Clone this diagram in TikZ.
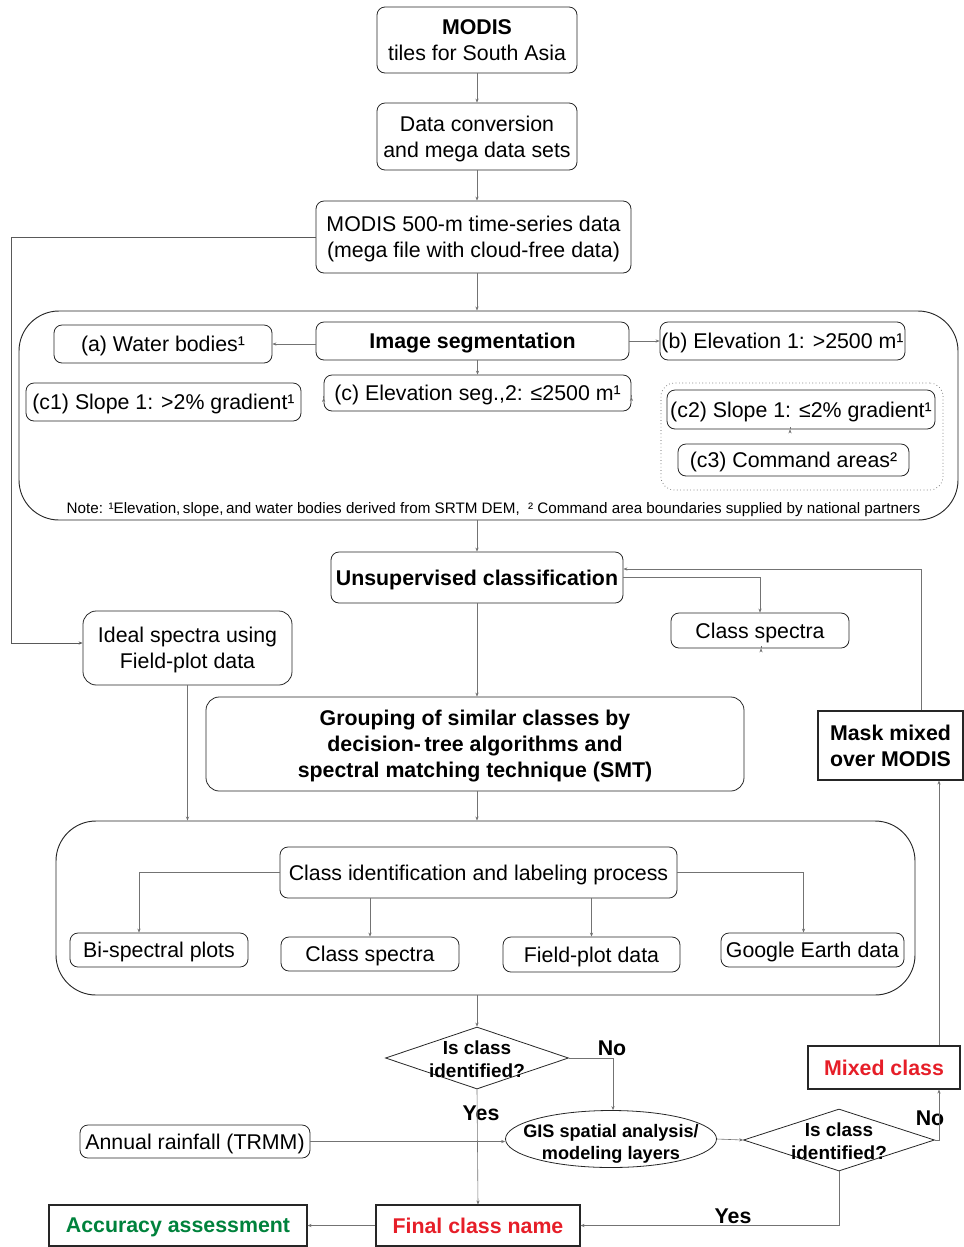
\documentclass[tikz,border=0pt]{standalone}
\usepackage{fontspec}
\setmainfont{Liberation Sans}
\usetikzlibrary{arrows.meta,positioning,calc,shapes.geometric}
\definecolor{myred}{RGB}{230,30,40}
\definecolor{mygreen}{RGB}{0,130,60}
\begin{document}
\begin{tikzpicture}[x=0.75pt,y=-0.75pt,
  sz/.style 2 args={minimum width=#1*0.75pt, minimum height=#2*0.75pt},
  base/.style={inner sep=0pt, align=center, text depth=0pt, font=\fontsize{16}{19.5}\selectfont},
  bold/.style={font=\fontsize{16}{19.5}\selectfont\bfseries},
  box/.style={base, draw=black!85, line width=0.6pt, rounded corners=6pt},
  bigbox/.style={base, draw=black!85, line width=0.6pt, rounded corners=10pt},
  sqbox/.style={base, draw=black!85, line width=0.8pt},
  grp/.style={inner sep=0pt, draw=black!85, line width=0.7pt, rounded corners=30pt},
  dotbox/.style={inner sep=0pt, draw=black!70, line width=0.5pt, dotted, rounded corners=10pt},
  conn/.style={draw=black!55, line width=0.45pt, -{Stealth[length=3pt,width=2.4pt]}},
  dec/.style={diamond, draw=black!85, line width=0.6pt, inner sep=0pt},
  lbl/.style={font=\fontsize{16}{19.5}\selectfont\bfseries, inner sep=0pt}
]
\useasboundingbox (0,0) rectangle (964,1247);

% top chain
\node[box, sz={200}{66}] (modis) at (477,40) {\textbf{MODIS}\\tiles for South Asia};
\node[box, sz={200}{67}] (dconv) at (477,136.5) {Data conversion\\and mega data sets};
\node[box, sz={315}{72}] (m500) at (473.5,237) {MODIS 500-m time-series data\\(mega file with cloud-free data)};

% segmentation group
\node[grp, sz={939}{209}] (grp1) at (488.5,415.5) {};
\node[box, bold, sz={313}{38}] (iseg) at (472.5,341) {Image segmentation};
\node[box, sz={218}{38}] (wat) at (163,344) {(a) Water bodies¹};
\node[box, sz={245}{38}] (elev1) at (782.5,341) {(b) Elevation 1: >2500 m¹};
\node[box, sz={307}{36}] (elev2) at (477.5,393) {(c) Elevation seg.,2: ≤2500 m¹};
\node[box, sz={275}{38}] (slope1) at (163.5,402) {(c1) Slope 1: >2\% gradient¹};
\node[dotbox, sz={282}{107}] (dbox) at (802,436.5) {};
\node[box, sz={268}{39}] (slope2) at (801,409.5) {(c2) Slope 1: ≤2\% gradient¹};
\node[box, sz={231}{32}] (cmd) at (793.5,460) {(c3) Command areas²};
\node[inner sep=0pt, font=\fontsize{11.4}{13}\selectfont] (note) at (493.5,510)
  {Note: ¹Elevation,\,slope,\,and water bodies derived from SRTM DEM,\ \ ² Command area boundaries supplied by national partners};

% middle
\node[box, bold, sz={292}{51}] (unsup) at (477,577.5) {Unsupervised classification};
\node[bigbox, sz={209}{74}] (ideal) at (187.5,648) {Ideal spectra using\\Field-plot data};
\node[box, sz={178}{35}] (cspec1) at (760,630.5) {Class spectra};
\node[sqbox, bold, sz={145}{69}] (mask) at (890.5,745.5) {Mask mixed\\over MODIS};
\node[bigbox, bold, sz={538}{94}] (group) at (475,744)
  {Grouping of similar classes by\\decision-\,tree algorithms and\\spectral matching technique (SMT)};

% class identification group
\node[grp, sz={859}{174}] (grp2) at (485.5,908) {};
\node[box, sz={397}{51}] (cilp) at (478.5,872.5) {Class identification and labeling process};
\node[box, sz={178}{34}] (bisp) at (159,950) {Bi-spectral plots};
\node[box, sz={178}{34}] (cs2) at (370,954) {Class spectra};
\node[box, sz={177}{35}] (fp) at (591.5,954.5) {Field-plot data};
\node[box, sz={183}{34}] (ge) at (812.5,950) {Google Earth data};

% bottom
\node[dec, sz={183}{62}] (d1) at (477,1058) {};
\node[base, font=\fontsize{14.2}{17}\selectfont\bfseries] (d1t) at (477,1059) {Is class\\identified?};
\node[ellipse, draw=black!85, line width=0.6pt, inner sep=0pt, sz={211}{57}] (gis) at (611,1139) {};
\node[base, font=\fontsize{13.6}{16}\selectfont\bfseries] (gist) at (611,1142) {GIS spatial analysis/\\modeling layers};
\node[box, sz={230}{33}] (rain) at (195,1141.5) {Annual rainfall (TRMM)};
\node[dec, sz={191}{62}] (d2) at (839,1140) {};
\node[base, font=\fontsize{14.2}{17}\selectfont\bfseries] (d2t) at (839,1141) {Is class\\identified?};
\node[sqbox, bold, sz={152}{43}, text=myred] (mixed) at (884,1067.5) {Mixed class};
\node[sqbox, bold, sz={204}{41}, text=myred] (final) at (478,1225.5) {Final class name};
\node[sqbox, bold, sz={258}{41}, text=mygreen] (acc) at (178,1225.5) {Accuracy assessment};

\node[lbl] (no1) at (612,1048) {No};
\node[lbl] (yes1) at (481,1113) {Yes};
\node[lbl] (no2) at (930,1118) {No};
\node[lbl] (yes2) at (733,1216) {Yes};

% helper coordinates
\coordinate (lx) at (11,0);
\coordinate (fb) at (921,569);
\coordinate (rx) at (939,0);

% connectors
\draw[conn] (modis.south) -- (dconv.north);
\draw[conn] (dconv.south) -- (dconv.south |- m500.north);
\draw[conn] (dconv.south |- m500.south) -- (dconv.south |- grp1.north);
\draw[conn] (iseg.west |- wat.east) -- (wat.east);
\draw[conn] (iseg.east) -- (elev1.west);
\draw[conn] (elev2.north |- iseg.south) -- (elev2.north);
\draw[conn] ($(elev2.west)+(0,5)$) -- ($(elev2.west)+(0,5)$ -| slope1.east);
\draw[conn] ($(elev2.east)+(0,4)$) -- ($(elev2.east)+(0,4)$ -| dbox.west);
\draw[conn] ($(slope2.south)+(-11,0)$) -- ($(slope2.south)+(-11,0)$ |- cmd.north);
\draw[conn] (grp1.south -| unsup.north) -- (unsup.north);

\draw[conn, draw=black!65, line width=0.7pt] (m500.west) -- (m500.west -| lx) |- ($(ideal.west)+(0,-5)$);
\draw[conn] (unsup.east) -| (cspec1.north);
\draw[conn] (mask.north -| fb) |- (unsup.east |- fb);
\draw[conn] (unsup.south) -- (unsup.south |- group.north);

\draw[conn] (ideal.south) -- (ideal.south |- grp2.north);
\draw[conn] (unsup.south |- group.south) -- (unsup.south |- grp2.north);
\draw[conn] ($(cspec1.south)+(1,0)$) -- ($(cspec1.south)+(1,0)$ |- grp2.north);

\draw[conn] (cilp.west) -| ($(bisp.north)+(-20,0)$);
\draw[conn] (cilp.south -| cs2.north) -- (cs2.north);
\draw[conn] (cilp.south -| fp.north) -- (fp.north);
\draw[conn] (cilp.east) -| ($(ge.north)+(-9,0)$);

\draw[conn] (grp2.south -| d1.north) -- (d1.north);
\draw[conn] (d1.east) -| ($(gis.north)+(2,0)$);
\draw[conn] (d1.south) -- (final.north);
\draw[conn] (rain.east) -- (rain.east -| gis.west);
\draw[conn] (gis.east) -- (d2.west);
\draw[conn] (d2.east) -- (d2.east -| rx) -- (rx |- mixed.south);
\draw[conn] (rx |- mixed.north) -- (rx |- mask.south);
\draw[conn] (d2.south) |- (final.east);
\draw[conn] (final.west) -- (acc.east);
\end{tikzpicture}
\end{document}
